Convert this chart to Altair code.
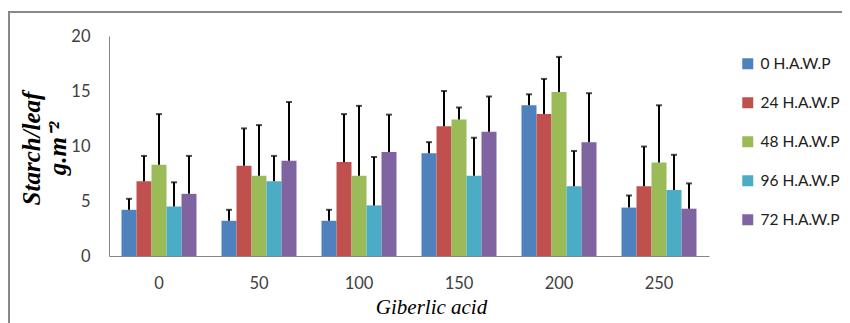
import altair as alt
import pandas as pd

ga = ["0", "50", "100", "150", "200", "250"]
series = ["0 H.A.W.P", "24 H.A.W.P", "48 H.A.W.P", "96 H.A.W.P", "72 H.A.W.P"]
colors = ["#4F81BD", "#C0504D", "#9BBB59", "#4BACC6", "#8064A2"]

mean_0 = [4.2, 3.2, 3.2, 9.35, 13.7, 4.4]
mean_24 = [6.8, 8.2, 8.55, 11.8, 12.9, 6.35]
mean_48 = [8.3, 7.3, 7.3, 12.4, 14.9, 8.5]
mean_96 = [4.5, 6.8, 4.6, 7.3, 6.35, 6.0]
mean_72 = [5.65, 8.65, 9.45, 11.3, 10.35, 4.3]

sd_0 = [1.0, 1.0, 1.0, 1.0, 1.0, 1.1]
sd_24 = [2.3, 3.4, 4.35, 3.2, 3.2, 3.6]
sd_48 = [4.6, 4.6, 6.35, 1.1, 3.2, 5.2]
sd_96 = [2.2, 2.3, 4.4, 3.45, 3.2, 3.2]
sd_72 = [3.45, 5.35, 3.4, 3.2, 4.45, 2.3]

means = [mean_0, mean_24, mean_48, mean_96, mean_72]
sds = [sd_0, sd_24, sd_48, sd_96, sd_72]

rows = []
for s, m, e in zip(series, means, sds):
    for g, mv, ev in zip(ga, m, e):
        rows.append({"ga": g, "series": s, "mean": mv, "upper": mv + ev})
df = pd.DataFrame(rows)

base = alt.Chart(df).encode(
    x=alt.X("ga:N", sort=ga,
            scale=alt.Scale(paddingInner=0.25, paddingOuter=0.125),
            axis=alt.Axis(title="Giberlic acid", labelAngle=0, ticks=False,
                          labelPadding=19, labelFontSize=16.5, labelFont="Lato",
                          labelColor="#404040", domainColor="#868686",
                          titleFont="Liberation Serif", titleFontStyle="italic",
                          titleFontWeight="normal", titleFontSize=21,
                          titleColor="#000000", titleX=322, titleY=57,
                          titleBaseline="alphabetic")),
    xOffset=alt.XOffset("series:N", sort=series, scale=alt.Scale(paddingInner=0, paddingOuter=0)),
)

bars = base.mark_bar(strokeWidth=0).encode(
    y=alt.Y("mean:Q", scale=alt.Scale(domain=[0, 20], nice=False),
            axis=alt.Axis(values=[0, 5, 10, 15, 20], grid=False, ticks=False,
                          labelPadding=19, labelFontSize=16.5, labelFont="Lato",
                          labelColor="#404040", domainColor="#868686",
                          title=["Starch/leaf", "g.m\u207b\u00b2"],
                          titleFont="Liberation Serif", titleFontStyle="italic",
                          titleFontWeight="bold", titleFontSize=25,
                          titleColor="#000000", titleAngle=-90,
                          titleX=-78, titleY=112, titleAlign="center",
                          titleBaseline="middle", titleLineHeight=26)),
    color=alt.Color("series:N", sort=series,
                    scale=alt.Scale(domain=series, range=colors),
                    legend=alt.Legend(title=None, orient="none", legendX=631, legendY=20,
                                      symbolType="square", symbolSize=121,
                                      symbolStrokeWidth=0, labelFontSize=15.5,
                                      labelFont="Lato", labelColor="#202020",
                                      rowPadding=22, labelOffset=5)),
)

rules = base.mark_rule(color="black", strokeWidth=2).encode(
    y="mean:Q", y2="upper:Q"
)

caps = base.mark_tick(color="black", thickness=2, size=6).encode(
    y="upper:Q"
)

frame = alt.Chart(df).mark_rect(fill=None, stroke="#888888", strokeWidth=1.5).encode(
    x=alt.value(-100.5), x2=alt.value(900), y=alt.value(-24), y2=alt.value(400)
)

chart = alt.layer(frame, bars, rules, caps).properties(
    width=600, height=220,
    padding={"left": 101, "top": 28, "right": 133, "bottom": 67},
    autosize="none",
).configure_view(stroke=None)

chart.save("out.html", embed_options={"renderer": "svg", "actions": False})
